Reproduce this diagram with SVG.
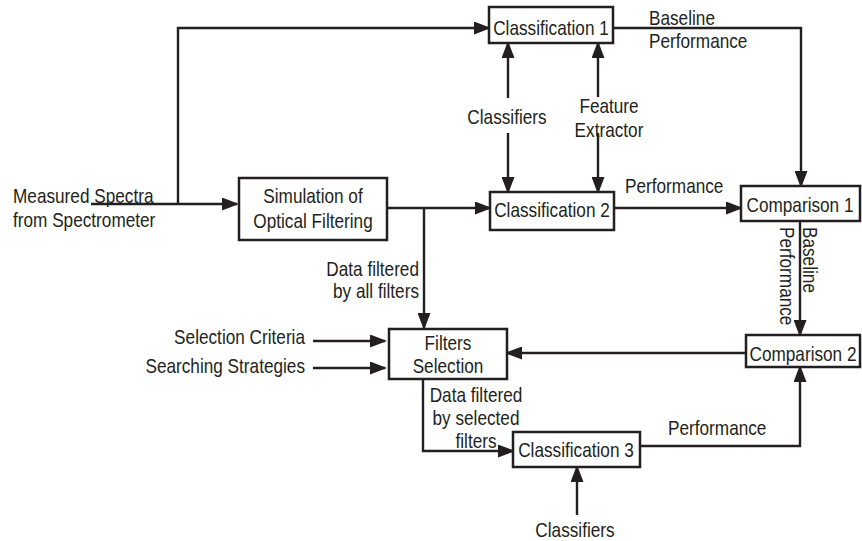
<svg xmlns="http://www.w3.org/2000/svg" width="862" height="541" viewBox="0 0 862 541">
<style>
.box{fill:#fff;stroke:#231f20;stroke-width:2.5}
.ln{fill:none;stroke:#231f20;stroke-width:2.4;marker-end:url(#ah)}
text{font-family:"Liberation Sans",Arial,sans-serif;font-size:20px;fill:#231f20}
.m{text-anchor:middle}
.e{text-anchor:end}
</style>
<defs>
<marker id="ah" markerUnits="userSpaceOnUse" markerWidth="17" markerHeight="13" refX="15" refY="6.5" orient="auto">
<path d="M0,0 L17,6.5 L0,13 z" fill="#231f20"/>
</marker>
</defs>
<rect width="862" height="541" fill="#fff"/>
<g id="connectors">
<path class="ln" d="M91,204 H237"/>
<path class="ln" d="M178,204 V28 H489"/>
<path class="ln" d="M387,208 H490"/>
<path class="ln" d="M424,208 V328"/>
<path class="ln" d="M508,98 V43"/>
<path class="ln" d="M508,133 V192"/>
<path class="ln" d="M598,97 V43"/>
<path class="ln" d="M598,133 V192"/>
<path class="ln" d="M613,28 H801 V186"/>
<path class="ln" d="M614,208 H741"/>
<path class="ln" d="M800,221 V335"/>
<path class="ln" d="M746,353 H507"/>
<path class="ln" d="M313,341 H385"/>
<path class="ln" d="M313,368 H385"/>
<path class="ln" d="M423,379 V451 H513"/>
<path class="ln" d="M640,446 H800 V367"/>
<path class="ln" d="M577,515 V467"/>
</g>
<g id="input-label">
<text transform="translate(13,203) scale(0.86,1)">Measured Spectra</text>
<text transform="translate(13,227) scale(0.86,1)">from Spectrometer</text>
</g>
<g id="simulation">
<rect class="box" x="239" y="178" width="148" height="62"/>
<text class="m" transform="translate(313,203) scale(0.86,1)">Simulation of</text>
<text class="m" transform="translate(313,228) scale(0.86,1)">Optical Filtering</text>
</g>
<g id="classification1">
<rect class="box" x="489" y="7" width="124" height="36"/>
<text class="m" transform="translate(551,35) scale(0.86,1)">Classification 1</text>
</g>
<g id="classification2">
<rect class="box" x="490" y="192" width="124" height="38"/>
<text class="m" transform="translate(552,217) scale(0.86,1)">Classification 2</text>
</g>
<g id="classifiers-top">
<text class="m" transform="translate(507,124) scale(0.86,1)">Classifiers</text>
</g>
<g id="feature-extractor">
<text class="m" transform="translate(609,113) scale(0.86,1)">Feature</text>
<text class="m" transform="translate(609,137) scale(0.86,1)">Extractor</text>
</g>
<g id="labels">
<text transform="translate(649,25) scale(0.86,1)">Baseline</text>
<text transform="translate(649,48) scale(0.86,1)">Performance</text>
<text transform="translate(625,193) scale(0.86,1)">Performance</text>
<text transform="translate(803,227) rotate(90) scale(0.86,1)">Baseline</text>
<text transform="translate(780,227) rotate(90) scale(0.86,1)">Performance</text>
<text class="e" transform="translate(419,276) scale(0.86,1)">Data filtered</text>
<text class="e" transform="translate(419,298) scale(0.86,1)">by all filters</text>
<text class="e" transform="translate(305,344) scale(0.86,1)">Selection Criteria</text>
<text class="e" transform="translate(305,373) scale(0.86,1)">Searching Strategies</text>
<text class="m" transform="translate(476,402) scale(0.86,1)">Data filtered</text>
<text class="m" transform="translate(476,425) scale(0.86,1)">by selected</text>
<text class="m" transform="translate(476,448) scale(0.86,1)">filters</text>
<text transform="translate(668,435) scale(0.86,1)">Performance</text>
</g>
<g id="comparison1">
<rect class="box" x="741" y="186" width="119" height="35"/>
<text class="m" transform="translate(800,212) scale(0.86,1)">Comparison 1</text>
</g>
<g id="comparison2">
<rect class="box" x="746" y="335" width="114" height="32"/>
<text class="m" transform="translate(803,361) scale(0.86,1)">Comparison 2</text>
</g>
<g id="filters-selection">
<rect class="box" x="389" y="329" width="118" height="50"/>
<text class="m" transform="translate(448,350) scale(0.86,1)">Filters</text>
<text class="m" transform="translate(448,373) scale(0.86,1)">Selection</text>
</g>
<g id="classification3">
<rect class="box" x="513" y="432" width="127" height="35"/>
<text class="m" transform="translate(576,457) scale(0.86,1)">Classification 3</text>
</g>
<g id="classifiers-bottom">
<text class="m" transform="translate(575,537) scale(0.86,1)">Classifiers</text>
</g>
</svg>
